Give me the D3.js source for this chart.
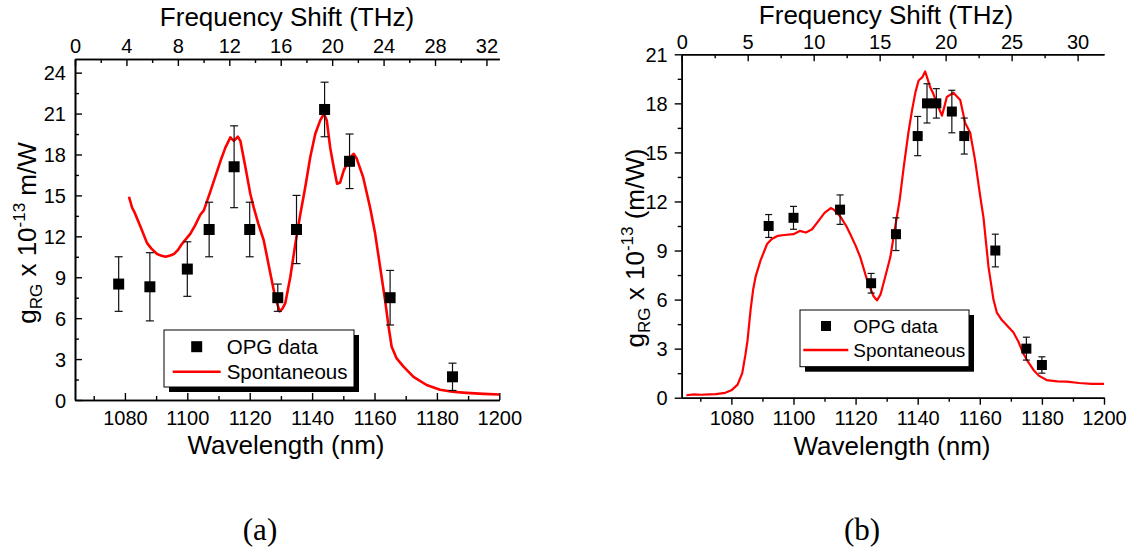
<!DOCTYPE html>
<html>
<head>
<meta charset="utf-8">
<script src="https://cdn.jsdelivr.net/npm/d3@7/dist/d3.min.js"></script>
<style>
  html, body { margin: 0; padding: 0; background: #fff; }
  svg { display: block; font-family: "Liberation Sans", Arial, sans-serif; }
</style>
</head>
<body>
<svg id="chart" width="1135" height="550"></svg>
<script>
// ---------------- DATA ----------------
const wavelengthTicks = [1080, 1100, 1120, 1140, 1160, 1180, 1200];
const gainTicksA = [0, 3, 6, 9, 12, 15, 18, 21, 24];
const gainTicksB = [0, 3, 6, 9, 12, 15, 18, 21];
const freqTicksA = [0, 4, 8, 12, 16, 20, 24, 28, 32];
const freqTicksB = [0, 5, 10, 15, 20, 25, 30];

// Panel (a): OPG data
const opgA_wl  = [1078, 1088, 1100, 1107, 1115, 1120, 1129, 1135, 1144, 1152, 1165, 1185];
const opgA_g   = [8.5, 8.3, 9.6, 12.5, 17.1, 12.5, 7.5, 12.5, 21.3, 17.5, 7.5, 1.7];
const opgA_err = [2, 2.5, 2, 2, 3, 2, 1, 2.5, 2, 2, 2, 1];

// Panel (a): spontaneous curve
const spontA_wl = [1081.3, 1082.3, 1083, 1085, 1087.1, 1088.5, 1090.3, 1091.5, 1093, 1094.5, 1095.7, 1097, 1098.3, 1101, 1102.5, 1104.2, 1105.3, 1107.4, 1109, 1110.6, 1112.2, 1113.8, 1114.9, 1116.2, 1117, 1118.6, 1120.2, 1121.3, 1122.8, 1124.5, 1126.6, 1128.2, 1129.6, 1130.5, 1131.4, 1133, 1134.6, 1136.2, 1137.8, 1139.4, 1141, 1142.6, 1143.8, 1144.7, 1145.8, 1146.9, 1148, 1149, 1150.1, 1151.6, 1152.3, 1153.3, 1154.3, 1156.4, 1158.6, 1160.2, 1161.8, 1163.4, 1164.5, 1165.5, 1167.1, 1169.3, 1172.5, 1176.7, 1181, 1185, 1189.5, 1195, 1200];
const spontA_g  = [14.9, 14.1, 13.8, 12.7, 11.5, 11.1, 10.7, 10.6, 10.5, 10.6, 10.7, 11.0, 11.45, 12.2, 12.8, 13.6, 13.9, 15.3, 16.4, 17.5, 18.5, 19.25, 19.0, 19.3, 19.0, 17.1, 15.1, 14.1, 12.9, 11.7, 9.3, 7.5, 6.5, 6.7, 7.1, 9.0, 11.4, 13.6, 15.6, 17.8, 19.5, 20.5, 21.0, 20.5, 18.5, 17.1, 15.85, 15.95, 16.8, 17.55, 17.8, 18.05, 17.7, 16.3, 14.1, 12.2, 9.75, 7.3, 5.4, 3.9, 3.05, 2.45, 1.7, 1.1, 0.75, 0.6, 0.52, 0.45, 0.4];

// Panel (b): OPG data
const opgB_wl  = [1092, 1100, 1115, 1125, 1133, 1140, 1143, 1146, 1151, 1155, 1165, 1175, 1180];
const opgB_g   = [10.5, 11, 11.5, 7, 10, 16, 18, 18, 17.5, 16, 9, 3, 2];
const opgB_err = [0.7, 0.7, 0.9, 0.6, 1, 1.2, 1.2, 0.9, 1.3, 1.1, 1, 0.7, 0.5];

// Panel (b): spontaneous curve
const spontB_wl = [1065.5, 1068, 1070, 1073, 1075, 1078, 1080, 1082, 1083.5, 1084.5, 1085.2, 1086.2, 1087, 1087.8, 1089.4, 1091.5, 1093, 1095, 1097, 1100, 1102, 1104, 1106, 1108, 1110, 1112, 1113, 1115, 1117, 1118.3, 1120, 1121.5, 1123.7, 1125.8, 1126.9, 1128, 1129, 1131.2, 1132.8, 1134.2, 1135.5, 1137, 1138.2, 1139.3, 1140.3, 1141.5, 1142.4, 1143, 1144, 1145, 1146.2, 1147.8, 1148.6, 1149.4, 1151.5, 1153.7, 1155.3, 1156.9, 1158.5, 1160, 1161.2, 1162.8, 1164.4, 1165.5, 1167.1, 1170.8, 1172.5, 1174, 1175.5, 1177.3, 1179, 1181.5, 1185, 1188, 1192, 1196, 1200];
const spontB_g  = [0.15, 0.2, 0.18, 0.2, 0.22, 0.3, 0.45, 0.8, 1.5, 2.6, 3.5, 5.4, 6.6, 7.4, 8.4, 9.4, 9.7, 9.9, 9.95, 10.0, 10.2, 10.1, 10.3, 10.8, 11.3, 11.6, 11.5, 11.1, 10.5, 10.0, 9.3, 8.6, 7.2, 6.2, 5.95, 6.3, 7.0, 8.6, 10.5, 12.1, 14.1, 16.2, 17.6, 18.7, 19.4, 19.6, 19.95, 19.6, 19.0, 18.6, 18.0, 17.25, 17.8, 18.4, 18.65, 18.2, 16.8, 16.2, 14.5, 12.5, 11.0, 8.0, 6.0, 5.2, 4.75, 4.0, 3.4, 2.7, 2.2, 1.7, 1.35, 1.08, 1.0, 0.98, 0.9, 0.85, 0.85];

const legendLabels = ["OPG data", "Spontaneous"];
const captions = ["(a)", "(b)"];

// ---------------- DRAW ----------------
const svg = d3.select("#chart");
const FONT = "'Liberation Sans', Arial, sans-serif";

function drawPanel(cfg) {
  const g = svg.append("g");
  const x = d3.scaleLinear().domain([1064, 1200]).range([cfg.left, cfg.right]);
  const y = d3.scaleLinear().domain([0, cfg.yMax]).range([cfg.bottom, cfg.top]);
  const xf = d3.scaleLinear().domain([0, cfg.fMax]).range([cfg.left, cfg.right]);

  const styleAxis = sel => {
    sel.selectAll("path.domain").attr("stroke", "#000").attr("stroke-width", 1.6);
    sel.selectAll(".tick line").attr("stroke", "#000").attr("stroke-width", 1.4);
    sel.selectAll("text").attr("font-family", FONT).attr("font-size", cfg.tickFont).attr("fill", "#000");
  };

  // bottom axis
  const bIn = cfg.bottomInward ? -1 : 1;
  const minorWl = d3.range(1070, 1200, 20);
  g.append("g").attr("transform", `translate(0,${cfg.bottom})`)
    .call(d3.axisBottom(x).tickValues(minorWl).tickFormat("").tickSizeOuter(0).tickSizeInner(4 * bIn))
    .call(styleAxis);
  const bAx = g.append("g").attr("transform", `translate(0,${cfg.bottom})`)
    .call(d3.axisBottom(x).tickValues(wavelengthTicks).tickSizeOuter(0).tickSizeInner(7 * bIn).tickFormat(d3.format("d")))
    .call(styleAxis);
  bAx.selectAll("text").attr("y", cfg.bottomLabelDy).attr("dy", null);

  // left axis
  const lIn = cfg.leftInward ? -1 : 1;
  const minorG = d3.range(1.5, cfg.yMax, 3);
  g.append("g").attr("transform", `translate(${cfg.left},0)`)
    .call(d3.axisLeft(y).tickValues(minorG).tickFormat("").tickSizeOuter(0).tickSizeInner(4 * lIn))
    .call(styleAxis);
  const lAx = g.append("g").attr("transform", `translate(${cfg.left},0)`)
    .call(d3.axisLeft(y).tickValues(cfg.gainTicks).tickSizeOuter(0).tickSizeInner(7 * lIn).tickFormat(d3.format("d")))
    .call(styleAxis);
  lAx.selectAll("text").attr("x", -cfg.leftLabelGap).attr("dy", "0.36em");

  // top axis (frequency shift)
  const minorF = d3.range(cfg.fStep / 2, cfg.fMax, cfg.fStep);
  g.append("g").attr("transform", `translate(0,${cfg.top})`)
    .call(d3.axisTop(xf).tickValues(minorF).tickFormat("").tickSizeOuter(0).tickSizeInner(-4))
    .call(styleAxis);
  const tAx = g.append("g").attr("transform", `translate(0,${cfg.top})`)
    .call(d3.axisTop(xf).tickValues(cfg.freqTicks).tickSizeOuter(0).tickSizeInner(-7).tickFormat(d3.format("d")))
    .call(styleAxis);
  tAx.selectAll("text").attr("y", -cfg.topLabelGap).attr("dy", null);

  // titles
  g.append("text").attr("x", cfg.topTitleX).attr("y", cfg.topTitleY)
    .attr("text-anchor", "middle").attr("font-family", FONT).attr("font-size", 26)
    .text("Frequency Shift (THz)");
  g.append("text").attr("x", cfg.bottomTitleX).attr("y", cfg.bottomTitleY)
    .attr("text-anchor", "middle").attr("font-family", FONT).attr("font-size", 26)
    .text("Wavelength (nm)");
  const yt = g.append("text")
    .attr("transform", `translate(${cfg.yTitleX},${cfg.yTitleY}) rotate(-90)`)
    .attr("text-anchor", "middle").attr("font-family", FONT).attr("font-size", 26);
  yt.append("tspan").text("g");
  yt.append("tspan").attr("font-size", 17).attr("dy", 6).text("RG");
  yt.append("tspan").attr("dy", -6).text(" x 10");
  yt.append("tspan").attr("font-size", 17).attr("dy", -11).text("-13");
  yt.append("tspan").attr("dy", 11).text(cfg.unit);

  // spontaneous curve
  const line = d3.line().x(d => x(d[0])).y(d => y(d[1]));
  g.append("path").datum(d3.zip(cfg.sWl, cfg.sG))
    .attr("d", line).attr("fill", "none").attr("stroke", "#ff0000")
    .attr("stroke-width", cfg.lineW).attr("stroke-linejoin", "round");

  // error bars
  const pts = d3.zip(cfg.oWl, cfg.oG, cfg.oE);
  const eb = g.append("g").attr("stroke", "#111").attr("stroke-width", 1.2);
  eb.selectAll("line.v").data(pts).join("line")
    .attr("x1", d => x(d[0])).attr("x2", d => x(d[0]))
    .attr("y1", d => y(d[1] - d[2])).attr("y2", d => y(d[1] + d[2]));
  eb.selectAll("line.t").data(pts).join("line")
    .attr("x1", d => x(d[0]) - cfg.cap).attr("x2", d => x(d[0]) + cfg.cap)
    .attr("y1", d => y(d[1] + d[2])).attr("y2", d => y(d[1] + d[2]));
  eb.selectAll("line.b").data(pts).join("line")
    .attr("x1", d => x(d[0]) - cfg.cap).attr("x2", d => x(d[0]) + cfg.cap)
    .attr("y1", d => y(d[1] - d[2])).attr("y2", d => y(d[1] - d[2]));
  // markers
  g.append("g").selectAll("rect").data(pts).join("rect")
    .attr("x", d => x(d[0]) - cfg.ms / 2).attr("y", d => y(d[1]) - cfg.ms / 2)
    .attr("width", cfg.ms).attr("height", cfg.ms).attr("fill", "#000");

  // legend
  const L = cfg.legend;
  g.append("rect").attr("x", L.x + 5).attr("y", L.y + 5).attr("width", L.w).attr("height", L.h).attr("fill", "#000");
  g.append("rect").attr("x", L.x).attr("y", L.y).attr("width", L.w).attr("height", L.h)
    .attr("fill", "#fff").attr("stroke", "#000").attr("stroke-width", 1);
  g.append("rect").attr("x", L.symX - cfg.ms / 2).attr("y", L.row1 - cfg.ms / 2)
    .attr("width", cfg.ms).attr("height", cfg.ms).attr("fill", "#000");
  g.append("line").attr("x1", L.lineX1).attr("x2", L.lineX2).attr("y1", L.row2).attr("y2", L.row2)
    .attr("stroke", "#ff0000").attr("stroke-width", 2.5);
  g.selectAll("text.leg").data(legendLabels).join("text")
    .attr("x", L.textX).attr("y", (d, i) => (i === 0 ? L.row1 : L.row2) + L.font * 0.36)
    .attr("font-family", FONT).attr("font-size", L.font).text(d => d);

  // caption
  g.append("text").attr("x", cfg.capX).attr("y", 540).attr("text-anchor", "middle")
    .attr("font-family", "'Liberation Serif', 'Times New Roman', serif").attr("font-size", 31)
    .text(cfg.caption);
}

drawPanel({
  left: 75, right: 499.3, top: 59, bottom: 400, yMax: 25, fMax: 33, fStep: 4,
  gainTicks: gainTicksA, freqTicks: freqTicksA, tickFont: 20,
  bottomInward: true, leftInward: true,
  bottomLabelDy: 25, leftLabelGap: 9, topLabelGap: 6,
  topTitleX: 287, topTitleY: 26, bottomTitleX: 286, bottomTitleY: 454,
  yTitleX: 36, yTitleY: 233, unit: " m/W",
  sWl: spontA_wl, sG: spontA_g, lineW: 2.6,
  oWl: opgA_wl, oG: opgA_g, oE: opgA_err, cap: 4, ms: 11,
  legend: { x: 164, y: 330, w: 190, h: 57, symX: 196.7, row1: 346.7, row2: 371.7, lineX1: 172.7, lineX2: 220.7, textX: 226.7, font: 20.5 },
  capX: 260, caption: captions[0]
});

drawPanel({
  left: 681.7, right: 1104, top: 54.3, bottom: 397.7, yMax: 21, fMax: 32, fStep: 5,
  gainTicks: gainTicksB, freqTicks: freqTicksB, tickFont: 20,
  bottomInward: false, leftInward: false,
  bottomLabelDy: 27.5, leftLabelGap: 14, topLabelGap: 5,
  topTitleX: 886, topTitleY: 24, bottomTitleX: 892, bottomTitleY: 455,
  yTitleX: 643.5, yTitleY: 248, unit: " (m/W)",
  sWl: spontB_wl, sG: spontB_g, lineW: 2.2,
  oWl: opgB_wl, oG: opgB_g, oE: opgB_err, cap: 3.5, ms: 10,
  legend: { x: 800, y: 310, w: 169, h: 56.7, symX: 826, row1: 326, row2: 350, lineX1: 803.3, lineX2: 848.3, textX: 853.3, font: 19 },
  capX: 862, caption: captions[1]
});
</script>
</body>
</html>
